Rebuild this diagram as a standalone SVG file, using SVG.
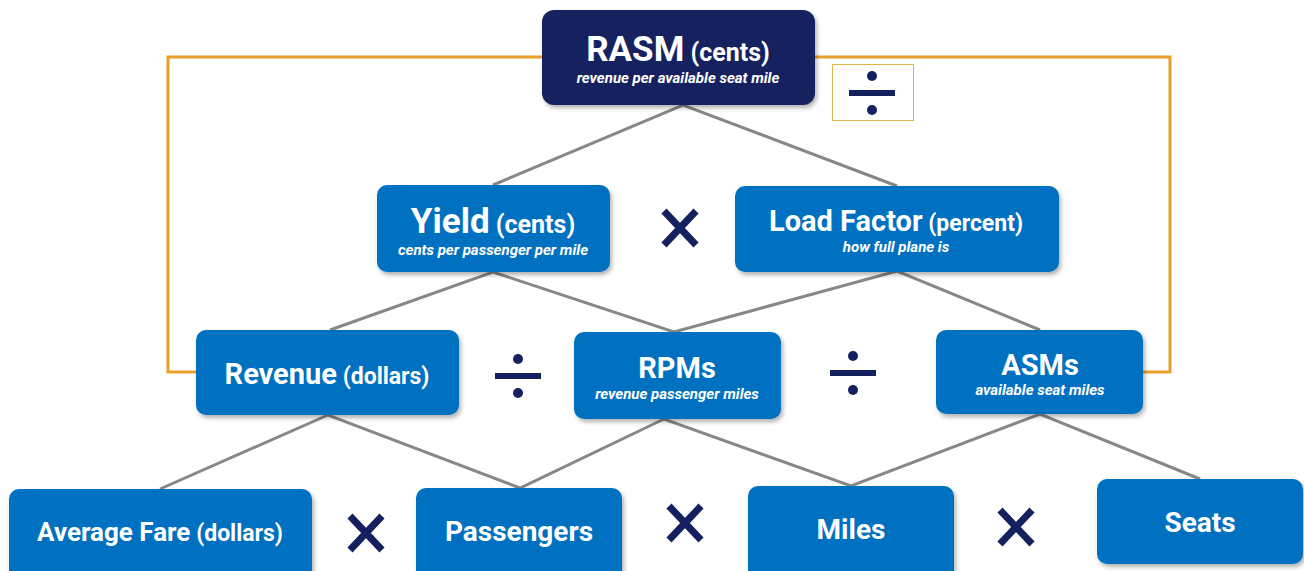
<svg xmlns="http://www.w3.org/2000/svg" width="1304" height="571" viewBox="0 0 1304 571">
<style>
.box{fill:#0070c0;filter:url(#sh)}
.dark{fill:#14215e;filter:url(#sh)}
.t{font-family:Roboto,"Liberation Sans",sans-serif;font-weight:700;fill:#fff;text-anchor:middle}
.s{font-family:Roboto,"Liberation Sans",sans-serif;font-weight:700;font-style:italic;fill:#fff;text-anchor:middle;font-size:15px}
.g{stroke:#878787;stroke-width:3;fill:none}
.o{stroke:#e9a02a;stroke-width:3;fill:none}
.dot{fill:#14215e}
</style>
<defs>
<filter id="sh" x="-10%" y="-10%" width="130%" height="140%">
<feDropShadow dx="2" dy="3" stdDeviation="2" flood-color="#000" flood-opacity="0.3"/>
</filter>
<g id="div"><rect x="-23" y="-3" width="46" height="6" fill="#14215e"/><circle cx="0" cy="-17" r="5" class="dot"/><circle cx="0" cy="17" r="5" class="dot"/></g>
<g id="mul"><path d="M-16,-17 L16,17 M16,-17 L-16,17" stroke="#14215e" stroke-width="7"/></g>
</defs>
<g id="connectors">
<path class="o" d="M542,57 H168 V372 H196"/>
<path class="o" d="M815,57 H1170 V372 H1143"/>
<path class="g" d="M493,185 L683,105 L897,186"/>
<path class="g" d="M330,330 L493,272 L674,332 L897,271 L1040,330"/>
<path class="g" d="M160,489 L328,415 L520,488 L664,419 L851,486 L1040,414 L1200,479"/>
</g>
<g id="rasm">
<rect class="dark" x="542" y="10" width="273" height="95" rx="12"/>
<text class="t" x="678" y="61"><tspan font-size="35">RASM</tspan><tspan font-size="25"> (cents)</tspan></text>
<text class="s" x="678" y="83">revenue per available seat mile</text>
</g>
<g id="divide-box">
<rect x="832.5" y="64.5" width="81" height="56" fill="#fff" stroke="#e0b551" stroke-width="1"/>
<use href="#div" x="872" y="93"/>
</g>
<g id="yield">
<rect class="box" x="377" y="185" width="233" height="87" rx="10"/>
<text class="t" x="493" y="233"><tspan font-size="35">Yield</tspan><tspan font-size="25"> (cents)</tspan></text>
<text class="s" x="493" y="255">cents per passenger per mile</text>
</g>
<use href="#mul" x="680" y="228"/>
<g id="loadfactor">
<rect class="box" x="735" y="186" width="324" height="86" rx="10"/>
<text class="t" x="896" y="231"><tspan font-size="29">Load Factor</tspan><tspan font-size="23"> (percent)</tspan></text>
<text class="s" x="896" y="252">how full plane is</text>
</g>
<g id="revenue">
<rect class="box" x="196" y="330" width="263" height="85" rx="10"/>
<text class="t" x="327" y="384"><tspan font-size="29">Revenue</tspan><tspan font-size="23"> (dollars)</tspan></text>
</g>
<use href="#div" x="518" y="376"/>
<g id="rpms">
<rect class="box" x="574" y="332" width="207" height="87" rx="10"/>
<text class="t" x="677" y="378" font-size="29">RPMs</text>
<text class="s" x="677" y="399">revenue passenger miles</text>
</g>
<use href="#div" x="853" y="373"/>
<g id="asms">
<rect class="box" x="936" y="330" width="207" height="84" rx="10"/>
<text class="t" x="1040" y="375" font-size="29">ASMs</text>
<text class="s" x="1040" y="395">available seat miles</text>
</g>
<g id="avgfare">
<rect class="box" x="9" y="489" width="303" height="95" rx="10"/>
<text class="t" x="160" y="541"><tspan font-size="26">Average Fare</tspan><tspan font-size="23"> (dollars)</tspan></text>
</g>
<use href="#mul" x="366" y="533"/>
<g id="passengers">
<rect class="box" x="416" y="488" width="206" height="95" rx="10"/>
<text class="t" x="519" y="541" font-size="28">Passengers</text>
</g>
<use href="#mul" x="685" y="523"/>
<g id="miles">
<rect class="box" x="748" y="486" width="206" height="95" rx="10"/>
<text class="t" x="851" y="539" font-size="28">Miles</text>
</g>
<use href="#mul" x="1016" y="527"/>
<g id="seats">
<rect class="box" x="1097" y="479" width="206" height="85" rx="10"/>
<text class="t" x="1200" y="532" font-size="28">Seats</text>
</g>
</svg>
